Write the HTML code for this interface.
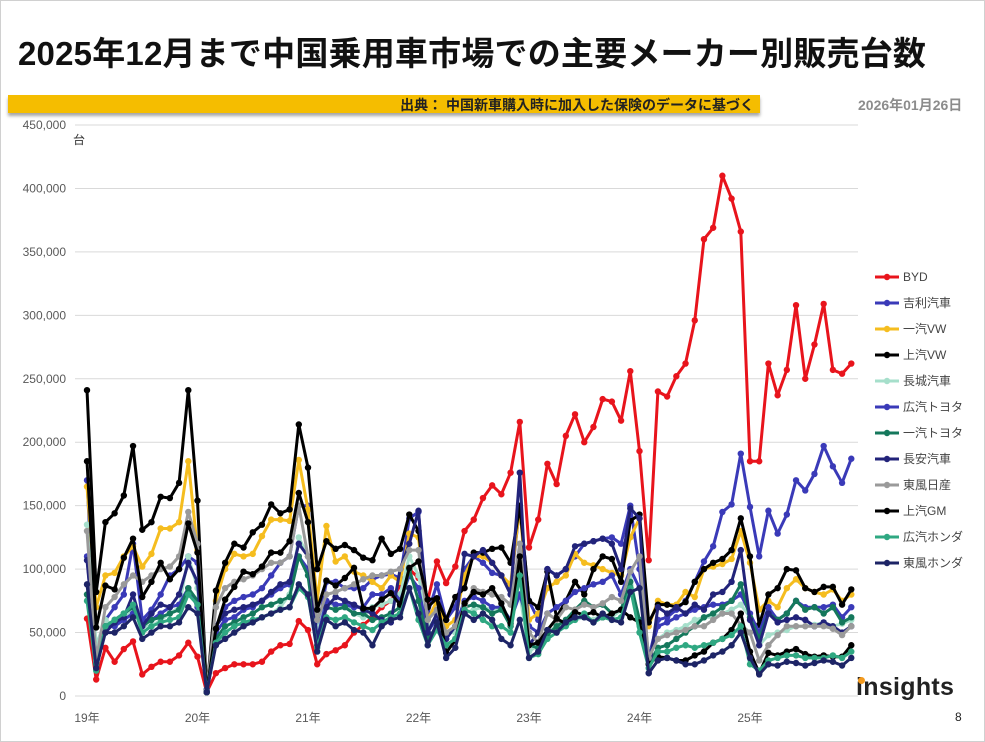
<!DOCTYPE html>
<html><head><meta charset="utf-8">
<style>
html,body{margin:0;padding:0;background:#fff;}
body{width:985px;height:742px;position:relative;overflow:hidden;font-family:"Liberation Sans","Noto Sans CJK JP",sans-serif;}
.frame{position:absolute;left:0;top:0;width:983px;height:740px;border:1px solid #d0d0d0;}
.title{position:absolute;left:18px;top:27px;font-size:33px;font-weight:bold;color:#111;letter-spacing:0.2px;white-space:nowrap;}
.bar{position:absolute;left:8px;top:95px;width:752px;height:18px;background:#f5bd00;box-shadow:0 3px 3px rgba(0,0,0,0.35);}
.bar span{position:absolute;right:6px;top:0px;font-size:14px;font-weight:bold;color:#222;white-space:nowrap;}
.date{position:absolute;left:858px;top:95px;font-size:14px;font-weight:bold;color:#8c8c8c;white-space:nowrap;}
.logo{position:absolute;left:856px;top:673px;font-size:25px;font-weight:bold;color:#222;letter-spacing:0.3px;}
.pg{position:absolute;left:955px;top:710px;font-size:12px;color:#222;}
</style></head><body>
<div class="frame"></div>
<div class="title">2025年12月まで中国乗用車市場での主要メーカー別販売台数</div>
<div class="bar"><span>出典： 中国新車購入時に加入した保険のデータに基づく</span></div>
<div class="date">2026年01月26日</div>
<svg id="chart" width="985" height="742" style="position:absolute;left:0;top:0"></svg>
<div class="logo">insights</div>
<div style="position:absolute;left:858px;top:677px;width:7px;height:7px;border-radius:50%;background:#f39a1e"></div>
<div class="pg">8</div>
<script>
const yTicks=[0,50000,100000,150000,200000,250000,300000,350000,400000,450000];
const yearLabels=["19年","20年","21年","22年","23年","24年","25年"];
const seriesNames=["BYD","吉利汽車","一汽VW","上汽VW","長城汽車","広汽トヨタ","一汽トヨタ","長安汽車","東風日産","上汽GM","広汽ホンダ","東風ホンダ"];
const seriesColors=["#e8141c","#3a3ab8","#f5bd1f","#000000","#a6dfcb","#3a3ab8","#15785c","#22237a","#9a9a9a","#000000","#2fa882","#1d2466"];
const byd=[61,13,38,27,37,43,17,23,27,27,32,42, 31,3,18,22,25,25,25,27,35,40,41,59, 52,25,33,36,40,50,56,62,70,75,87,100, 93,75,106,89,102,130,139,156,166,159,176,216, 117,139,183,167,205,222,200,212,234,232,217,256, 193,107,240,236,252,262,296,360,369,410,392,366, 185,185,262,237,257,308,250,277,309,257,254,262];
const geely=[170,27,60,70,80,120,60,68,80,95,100,110, 105,5,55,70,75,78,80,85,95,105,110,150, 150,50,90,90,85,85,85,92,95,96,93,140, 145,65,88,60,70,100,110,105,97,95,85,150, 75,60,100,95,100,110,120,122,124,125,120,150, 100,30,60,62,68,75,90,106,118,145,151,191, 149,110,146,128,143,170,162,175,197,181,168,187];
const faw_vw=[165,70,95,97,110,118,102,112,132,132,137,185, 115,3,75,100,112,110,112,126,139,139,138,186, 147,75,134,106,110,98,95,90,85,95,90,128, 125,60,75,55,60,95,110,110,105,95,88,150, 60,65,85,90,95,112,105,103,100,97,95,125, 140,55,75,72,72,82,78,100,102,104,108,130, 105,68,75,70,85,92,85,82,80,84,75,80];
const saic_vw=[241,82,137,144,158,197,131,137,157,156,168,241, 154,3,83,105,120,117,129,135,151,144,147,214, 180,100,122,116,119,115,109,107,124,112,116,143, 130,70,77,60,78,85,113,113,116,117,105,150, 75,70,98,62,75,90,80,100,110,108,90,138, 143,58,72,72,70,74,90,100,105,108,115,140, 110,56,80,85,100,99,85,82,86,86,72,84];
const gwm=[135,40,60,55,60,70,55,55,60,65,70,110, 85,3,45,55,58,55,58,62,65,70,80,125, 110,50,75,70,72,65,62,70,72,75,80,110, 95,55,60,50,50,65,68,70,68,70,60,80, 35,40,50,55,58,60,62,60,65,62,68,95, 55,35,45,50,52,55,60,62,62,65,68,72, 62,40,48,50,52,55,55,56,58,55,57,60];
const gac_toyota=[110,25,55,55,60,65,60,60,65,70,72,85, 70,4,50,60,62,68,70,75,80,85,88,110, 100,45,75,72,72,70,70,80,80,85,75,95, 85,50,62,45,55,75,78,75,70,70,60,80, 55,50,65,70,75,82,85,88,90,95,80,100, 85,30,55,58,62,65,68,70,72,72,75,80, 65,50,70,60,65,75,70,70,70,72,62,70];
const faw_toyota=[80,25,55,60,65,70,55,60,62,65,68,85, 75,3,45,55,58,62,65,70,72,75,78,110, 95,40,70,68,70,65,65,60,62,65,70,100, 75,45,55,40,45,70,72,70,65,68,55,110, 40,38,48,55,60,68,75,70,72,65,68,90, 60,25,38,40,45,50,55,62,65,70,75,88, 62,45,65,60,65,75,68,70,65,70,58,62];
const changan=[107,30,50,58,62,80,55,65,72,70,80,105, 90,5,55,65,68,70,72,75,82,88,90,120, 110,45,70,78,75,72,68,65,60,58,100,120, 146,50,65,45,55,112,110,115,105,95,80,176, 40,50,100,95,100,118,120,122,124,120,100,148, 140,18,70,65,70,65,72,68,80,82,90,115, 60,40,65,58,60,62,60,55,58,55,50,55];
const df_nissan=[130,28,70,78,88,95,90,95,100,102,110,145, 120,4,70,85,90,92,95,100,105,105,110,150, 110,60,80,82,85,88,92,95,95,98,100,115, 115,60,68,50,55,70,85,82,80,78,72,120, 50,42,65,60,70,68,72,70,73,78,75,98, 110,30,45,48,50,52,55,55,60,65,65,56, 50,28,40,48,55,55,55,55,55,53,48,55];
const saic_gm=[185,54,87,84,109,124,78,90,105,92,100,136, 113,3,53,76,86,98,96,102,113,113,122,160, 137,68,91,87,93,101,69,69,76,81,72,101, 106,76,77,34,44,73,82,80,85,73,57,110, 40,42,52,61,57,66,64,66,62,65,68,62, 58,25,31,30,28,28,32,35,42,45,52,65, 35,18,34,32,35,37,33,31,32,31,31,40];
const gac_honda=[75,20,55,60,65,72,50,55,58,60,62,80, 72,3,42,50,55,58,60,62,65,68,70,85, 78,38,62,60,62,58,55,52,58,62,65,85, 60,40,52,40,45,68,65,60,55,55,50,95, 30,33,45,50,55,60,65,58,62,60,62,85, 50,22,35,35,38,40,38,40,42,45,48,55, 25,20,28,30,32,32,30,30,30,32,30,35];
const df_honda=[88,22,50,50,55,62,45,50,55,55,58,70, 65,3,40,45,50,55,58,62,65,68,70,88, 80,35,60,55,58,52,50,40,55,60,62,85, 65,40,58,30,38,65,60,65,60,45,40,60, 30,35,52,50,58,62,62,58,65,60,58,82, 85,18,28,30,28,25,25,28,32,35,40,50, 30,17,25,24,27,26,24,26,28,27,24,30];
const allSeries=[byd,geely,faw_vw,saic_vw,gwm,gac_toyota,faw_toyota,changan,df_nissan,saic_gm,gac_honda,df_honda];

const svg=document.getElementById('chart');
const NS='http://www.w3.org/2000/svg';
const X0=87, MONTH=110.5/12, Y0=696, YTOP=125, YMAX=450000;
function xs(i){return X0+i*MONTH;}
function ys(v){return Y0-(v/YMAX)*(Y0-YTOP);}
function mk(tag,attrs){const e=document.createElementNS(NS,tag);for(const k in attrs)e.setAttribute(k,attrs[k]);svg.appendChild(e);return e;}

yTicks.forEach(t=>{
  const g=mk('line',{x1:75,x2:858,y1:ys(t),y2:ys(t),stroke:'#d9d9d9','stroke-width':1});
  
  
  const l=mk('text',{x:66,y:ys(t)+4,'text-anchor':'end','font-size':12,fill:'#595959','font-family':'Liberation Sans, sans-serif'});
  l.textContent=t.toLocaleString('en-US');
  
  
});
const unit=mk('text',{x:73,y:144,'font-size':12,fill:'#333','font-family':'Liberation Sans, Noto Sans CJK JP, sans-serif'});
unit.textContent='台';



yearLabels.forEach((lab,k)=>{
  const t=mk('text',{x:xs(k*12),y:722,'text-anchor':'middle','font-size':12,fill:'#595959','font-family':'Liberation Sans, Noto Sans CJK JP, sans-serif'});
  t.textContent=lab;
  
  
});

allSeries.forEach((arr,s)=>{
  const col=seriesColors[s];
  const pts=arr.map((v,i)=>xs(i).toFixed(1)+','+ys(v*1000).toFixed(1)).join(' ');
  const pl=mk('polyline',{points:pts,fill:'none',stroke:col,'stroke-width':3,'stroke-linejoin':'round'});
  
  
  arr.forEach((v,i)=>{
    const c=mk('circle',{cx:xs(i),cy:ys(v*1000),r:3.2,fill:col});
    
    
  });
  const ly=277+s*26;
  const ll=mk('line',{x1:875,x2:899,y1:ly,y2:ly,stroke:col,'stroke-width':3});
  
  
  const ld=mk('circle',{cx:887,cy:ly,r:3.2,fill:col});
  
  
  const lt=mk('text',{x:903,y:ly+4,'font-size':12,fill:'#444','font-family':'Liberation Sans, Noto Sans CJK JP, sans-serif'});
  lt.textContent=seriesNames[s];
  
  
});
</script>
</body></html>
